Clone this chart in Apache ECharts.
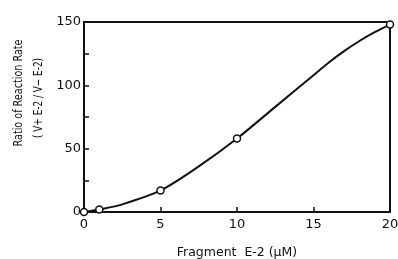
<!DOCTYPE html>
<html><head><meta charset="utf-8">
<script src="https://cdn.jsdelivr.net/npm/echarts@6/dist/echarts.min.js"></script>
<style>html,body{margin:0;padding:0;background:#fff}#c{width:398px;height:259px}</style>
</head><body><div id="c"></div>
<script>
// measured points (open circles)
const fragmentConc = [0, 1, 5, 10, 20];
const rateRatio = [0, 2, 17, 58, 148];
// fitted curve
const curveX = [0, 1, 2.5, 5, 7.5, 10, 12.5, 15, 16, 17, 18, 19, 20];
const curveY = [0, 2, 6, 17, 36, 58, 83, 108, 118, 127, 135, 142, 148];
const xTicks = [0, 5, 10, 15, 20];
const yTicks = [0, 50, 100, 150];

const chart = echarts.init(document.getElementById('c'));
const font = 'DejaVu Sans';
chart.setOption({
  animation: false,
  grid: {left: 84, right: 8, top: 22, bottom: 47, containLabel: false, outerBoundsMode: 'none'},
  xAxis: {
    type: 'value', min: 0, max: 20, interval: 5,
    name: 'Fragment  E-2 (μM)', nameLocation: 'middle', nameGap: 34,
    nameTextStyle: {color: '#111', fontSize: 12.5, fontFamily: font},
    axisLine: {show: true, lineStyle: {color: '#111', width: 2}},
    axisTick: {show: true, inside: true, length: 5, lineStyle: {color: '#111', width: 1.5}},
    axisLabel: {color: '#111', fontSize: 13, fontFamily: font, margin: 6,
      formatter: v => xTicks.includes(v) ? String(v) : ''},
    splitLine: {show: false}
  },
  yAxis: {
    type: 'value', min: 0, max: 150, interval: 25,
    axisLine: {show: true, lineStyle: {color: '#111', width: 2}},
    axisTick: {show: true, inside: true, length: 5, lineStyle: {color: '#111', width: 1.5}},
    axisLabel: {color: '#111', fontSize: 13, fontFamily: font, margin: 3,
      formatter: v => yTicks.includes(v) ? String(v) : ''},
    splitLine: {show: false}
  },
  graphic: [
    {type: 'rect', shape: {x: 84, y: 22, width: 306, height: 190}, style: {fill: 'none', stroke: '#111', lineWidth: 2}, silent: true},
    {type: 'text', x: 19, y: 93, rotation: Math.PI/2, scaleX: 0.74, style: {text: 'Ratio of Reaction Rate', fontSize: 13, fontFamily: font, fill: '#111', align: 'center', verticalAlign: 'middle'}},
    {type: 'text', x: 39, y: 98, rotation: Math.PI/2, scaleX: 0.74, style: {text: '( V+ E-2 / V− E-2)', fontSize: 12, fontFamily: font, fill: '#111', align: 'center', verticalAlign: 'middle'}}
  ],
  series: [{
    type: 'line', data: curveX.map((x, i) => [x, curveY[i]]),
    smooth: 0.3, symbol: 'none',
    lineStyle: {color: '#111', width: 2}, z: 4
  }, {
    type: 'scatter', data: fragmentConc.map((x, i) => [x, rateRatio[i]]),
    symbol: 'circle', symbolSize: 7,
    itemStyle: {color: '#fff', borderColor: '#111', borderWidth: 1.5, opacity: 1},
    z: 5
  }]
});
</script></body></html>
